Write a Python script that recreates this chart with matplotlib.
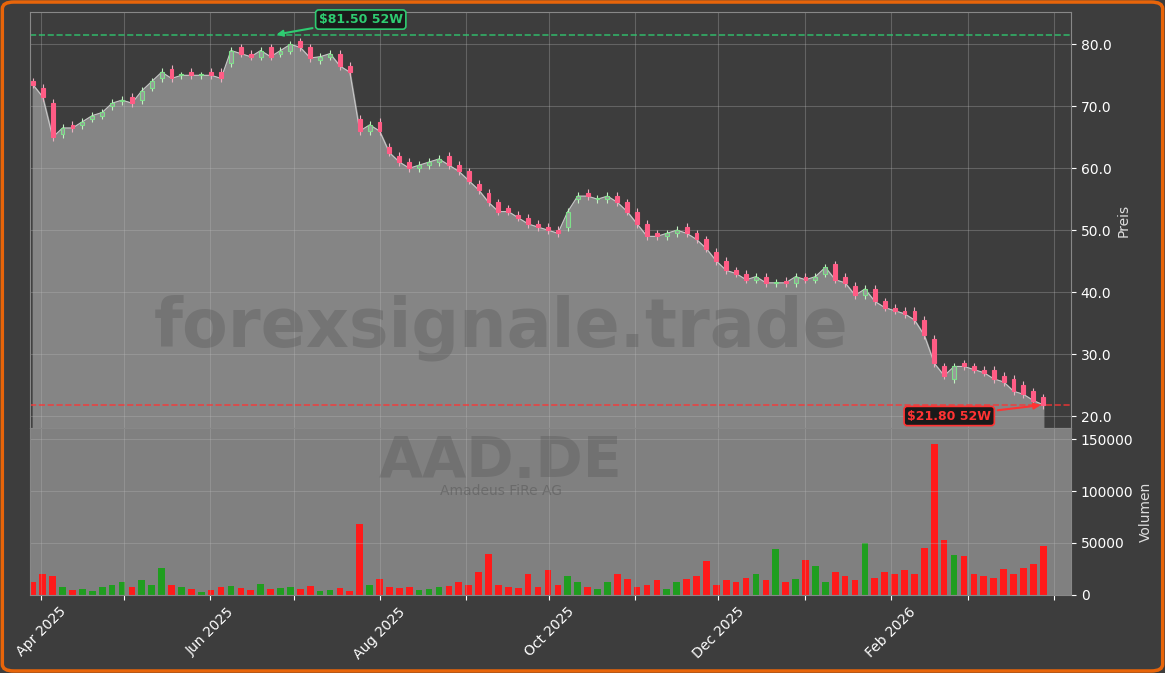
import matplotlib
matplotlib.use("Agg")
import matplotlib.pyplot as plt
import matplotlib.dates as mdates
from matplotlib.patches import FancyBboxPatch
import pandas as pd
import numpy as np

closes = [73.5,71.5,65.0,66.5,66.5,67.5,68.5,69.0,70.5,71.0,70.5,72.5,74.0,75.5,74.5,75.0,75.0,75.0,75.0,74.5,
          79.0,78.5,78.0,79.0,78.0,79.0,80.0,79.5,77.8,78.0,78.5,76.5,75.5,
          66.0,67.0,66.0,62.5,61.0,60.0,60.5,61.0,61.5,60.5,59.5,58.0,56.5,54.5,53.0,53.0,52.0,51.0,50.5,50.0,49.5,
          53.0,55.5,55.5,55.0,55.5,54.5,53.0,51.0,49.0,49.0,49.5,50.0,49.5,48.5,47.0,45.0,43.5,43.0,42.0,42.5,
          41.5,41.5,41.5,42.5,42.0,42.5,44.0,42.0,41.5,39.5,40.5,38.5,37.5,37.0,36.5,35.5,33.0,28.5,26.5,28.0,
          28.0,27.5,27.0,26.0,25.5,24.0,23.5,22.5,21.8]
opens = [74.0,73.0,70.5,65.5,67.0,67.0,68.0,68.5,70.0,70.8,71.5,71.0,73.0,74.5,76.0,75.0,75.5,75.0,75.5,75.5,
         77.0,79.5,78.5,78.0,79.5,78.5,79.0,80.5,79.5,77.5,78.0,78.5,76.5,
         68.0,66.0,67.5,63.5,62.0,61.0,60.0,60.5,61.0,62.0,60.5,59.5,57.5,56.0,54.5,53.5,52.5,52.0,51.0,50.5,
         50.0,50.5,55.0,56.0,55.0,55.0,55.5,54.5,53.0,51.0,49.5,49.0,49.5,50.5,49.5,48.5,46.5,45.0,43.5,43.0,
         42.0,42.5,41.5,41.8,41.5,42.5,42.0,43.0,44.5,42.5,41.0,39.5,40.5,38.5,37.5,37.0,37.0,35.5,32.5,28.0,
         26.0,28.5,28.0,27.5,27.5,26.5,26.0,25.0,24.0,23.0]
volumes = [12,20,18, 8,5,6,4,8,10, 12,8,14,10,26,10, 8,6,3,5,8,9, 7,5,11,6,7,8, 6,9,4,5,7,4, 68,
           10,15,8,7,8,5, 6,8,9,12,10,22, 39,10,8,7,20,8, 24,10,18,12,8,6, 12,20,15,8,10,14,
           6,12,15,18,33,10, 14,12,16,20,14,44, 12,15,34,28,12,22, 18,14,50,16,22,20,
           24,20,45,145,53,38, 37,20,18,16,25,20, 26,30,47]
volumes = [v * 1000 for v in volumes]
dates = pd.date_range("2025-03-29", "2026-03-28", periods=len(closes))
label_months = ["2025-04", "2025-06", "2025-08", "2025-10", "2025-12", "2026-02"]
high_52w = 81.50
low_52w = 21.80

BG = "#3d3d3d"
fig = plt.figure(figsize=(11.65, 6.73), dpi=100, facecolor=BG)
fig.patches.append(FancyBboxPatch((0.002, 0.003), 0.996, 0.994, boxstyle="round,pad=0,rounding_size=0.01",
                                  transform=fig.transFigure, facecolor="none", edgecolor="#e8650a", lw=2.5))
ax = fig.add_axes([0.0258, 0.364, 0.8935, 0.618], facecolor=BG)
axv = fig.add_axes([0.0258, 0.116, 0.8935, 0.248], facecolor="#808080", sharex=ax)

ymin, ymax = 18.06, 85.2
ax.fill_between(dates, closes, ymin, color="#858585", zorder=1)
ax.plot(dates, closes, color="#c8c8c8", lw=0.8, zorder=2)
w = 1.4
for d, o, c in zip(dates, opens, closes):
    up = c >= o
    col = "#7ee08a" if up else "#ff5c85"
    face = "#9a9a9a" if up else "#ff5c85"
    lo, hi = min(o, c), max(o, c)
    ax.vlines(d, lo - 0.6, hi + 0.6, color="#e8b0c0" if not up else "#c0f0c0", lw=0.8, zorder=3)
    ax.bar(d, max(hi - lo, 0.2), bottom=lo, width=w, color=face, edgecolor=col, lw=0.8, zorder=4)

ax.axhline(high_52w, color="#2ecc71", ls="--", lw=1.2, alpha=0.8)
ax.axhline(low_52w, color="#ff3333", ls="--", lw=1.2, alpha=0.8)
imax = int(np.argmax(closes)); imin = int(np.argmin(closes))
ax.annotate(f"${high_52w:.2f} 52W", xy=(dates[imax] - pd.Timedelta(days=6), high_52w), xytext=(pd.Timestamp("2025-07-10"), 84.0),
            color="#2ecc71", fontsize=9, fontweight="bold", va="center",
            bbox=dict(boxstyle="round,pad=0.25", fc="#1a1a1a", ec="#2ecc71", lw=1.2),
            arrowprops=dict(arrowstyle="-|>", color="#2ecc71", lw=1.5))
ax.annotate(f"${low_52w:.2f} 52W", xy=(dates[imin], low_52w), xytext=(pd.Timestamp("2026-02-07"), 20.0),
            color="#ff3333", fontsize=9, fontweight="bold", va="center",
            bbox=dict(boxstyle="round,pad=0.25", fc="#1a1a1a", ec="#ff3333", lw=1.2),
            arrowprops=dict(arrowstyle="-|>", color="#ff3333", lw=1.5))

ax.set_ylim(ymin, ymax)
ax.set_xlim(pd.Timestamp("2025-03-28"), pd.Timestamp("2026-04-07"))
ax.yaxis.tick_right(); ax.yaxis.set_label_position("right")
ax.set_ylabel("Preis", color="#dddddd")
ax.set_yticks([20, 30, 40, 50, 60, 70, 80])
ax.set_yticklabels([f"{v:.1f}" for v in [20, 30, 40, 50, 60, 70, 80]])
ax.tick_params(axis="x", labelbottom=False, length=0)

vcols = ["#1f9e1f" if c >= o else "#ff1a1a" for o, c in zip(opens, closes)]
axv.bar(dates, volumes, width=2.4, color=vcols)
axv.set_ylim(0, 160600)
axv.yaxis.tick_right(); axv.yaxis.set_label_position("right")
axv.set_ylabel("Volumen", color="#dddddd")
axv.set_yticks([0, 50000, 100000, 150000])
axv.xaxis.set_major_locator(mdates.MonthLocator())
labfmt = mdates.DateFormatter("%b %Y")
axv.xaxis.set_major_formatter(plt.FuncFormatter(
    lambda v, p: labfmt(v) if mdates.num2date(v).strftime("%Y-%m") in label_months else ""))
plt.setp(axv.get_xticklabels(), rotation=45, ha="center")

for a in (ax, axv):
    a.grid(True, color="#bbbbbb", alpha=0.3, lw=0.8)
    a.tick_params(colors="white", labelsize=10)
    for s in a.spines.values():
        s.set_color("#888888")

fig.text(0.43, 0.513, "forexsignale.trade", fontsize=48, fontweight="bold", color="#555555", alpha=0.35, ha="center", va="center")
fig.text(0.43, 0.313, "AAD.DE", fontsize=41, fontweight="bold", color="#555555", alpha=0.35, ha="center", va="center")
fig.text(0.43, 0.271, "Amadeus FiRe AG", fontsize=10, color="#555555", alpha=0.5, ha="center", va="center")

fig.savefig("out.png", dpi=100, facecolor=BG)
